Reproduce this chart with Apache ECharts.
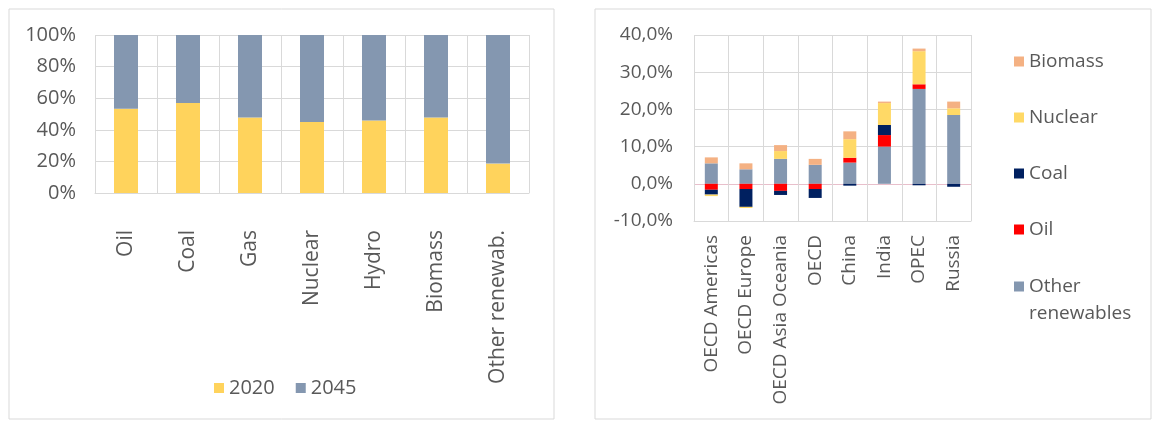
<!DOCTYPE html>
<html>
<head>
<meta charset="utf-8">
<script src="https://cdn.jsdelivr.net/npm/echarts@6/dist/echarts.min.js"></script>
<style>
  html, body { margin: 0; background: #fff; }
  #chart { width: 1156px; height: 423px; }
</style>
</head>
<body>
<div id="chart"></div>
<script>
// left chart: share of 2020 vs 2045 per fuel (100% stacked)
const fuels = ['Oil', 'Coal', 'Gas', 'Nuclear', 'Hydro', 'Biomass', 'Other renewab.'];
const share2020 = [53.3, 56.9, 47.8, 45.0, 45.9, 47.8, 18.6];
const share2045 = [46.7, 43.1, 52.2, 55.0, 54.1, 52.2, 81.4];

// right chart: change per region, by fuel (in %)
const regions = ['OECD Americas', 'OECD Europe', 'OECD Asia Oceania', 'OECD', 'China', 'India', 'OPEC', 'Russia'];
const otherRenewables = [5.5, 3.9, 6.7, 5.1, 5.7, 10.0, 25.5, 18.5];
const oil = [-1.6, -1.4, -1.9, -1.4, 1.3, 3.1, 1.25, 0];
const coal = [-1.3, -4.8, -1.1, -2.4, -0.5, 2.7, -0.4, -0.8];
const nuclear = [-0.4, -0.3, 2.1, 0, 5.0, 5.9, 8.9, 1.8];
const biomass = [1.6, 1.6, 1.6, 1.6, 2.1, 0.4, 0.7, 1.8];

const font = 'Open Sans';
const textGrey = '#595959';
const gridGrey = '#D9D9D9';

const chart = echarts.init(document.getElementById('chart'));

const pctComma = (v) => v.toFixed(1).replace('.', ',') + '%';

const rightSeries = [
  { name: 'Other renewables', data: otherRenewables, color: '#8497B0' },
  { name: 'Oil', data: oil, color: '#FF0000' },
  { name: 'Coal', data: coal, color: '#002060' },
  { name: 'Nuclear', data: nuclear, color: '#FFD966' },
  { name: 'Biomass', data: biomass, color: '#F4B183' },
].map((s) => ({
  name: s.name,
  type: 'bar',
  stack: 'regions',
  xAxisIndex: 1,
  yAxisIndex: 1,
  barWidth: 13,
  itemStyle: { color: s.color },
  data: s.data,
}));

const option = {
  backgroundColor: '#fff',
  animation: false,
  textStyle: { fontFamily: font },
  graphic: [
    { type: 'rect', shape: { x: 9, y: 9, width: 545, height: 410 }, style: { fill: 'none', stroke: gridGrey, lineWidth: 1 } },
    { type: 'rect', shape: { x: 595, y: 9, width: 556, height: 410 }, style: { fill: 'none', stroke: gridGrey, lineWidth: 1 } },
  ],
  grid: [
    { left: 95, top: 35, width: 434, height: 158 },
    { left: 694, top: 35, width: 277, height: 186 },
  ],
  legend: [
    {
      data: ['2020', '2045'],
      orient: 'horizontal',
      left: 214,
      top: 378,
      padding: 0,
      itemGap: 21,
      itemWidth: 10,
      itemHeight: 10,
      icon: 'rect',
      textStyle: { fontFamily: font, fontSize: 20, color: textGrey },
    },
    {
      data: ['Biomass', 'Nuclear', 'Coal', 'Oil'],
      orient: 'vertical',
      left: 1014,
      top: 48,
      padding: 0,
      itemGap: 29,
      itemWidth: 10,
      itemHeight: 10,
      icon: 'rect',
      textStyle: { fontFamily: font, fontSize: 19, lineHeight: 27, color: textGrey },
    },
    {
      // leading blank line keeps "Other" level with the icon
      data: ['Other renewables'],
      orient: 'vertical',
      left: 1014,
      top: 246,
      padding: 0,
      itemWidth: 10,
      itemHeight: 10,
      icon: 'rect',
      formatter: () => '\nOther\nrenewables',
      textStyle: { fontFamily: font, fontSize: 19, lineHeight: 27, color: textGrey },
    },
  ],
  xAxis: [
    {
      type: 'category',
      gridIndex: 0,
      data: fuels,
      axisTick: { show: false },
      axisLine: { lineStyle: { color: gridGrey } },
      splitLine: { show: true, interval: 0, lineStyle: { color: gridGrey } },
      axisLabel: { rotate: 90, interval: 0, margin: 37, fontSize: 21, color: textGrey, fontFamily: font },
    },
    {
      type: 'category',
      gridIndex: 1,
      data: regions,
      axisTick: { show: false },
      axisLine: { onZero: false, lineStyle: { color: gridGrey } },
      splitLine: { show: true, interval: 0, lineStyle: { color: gridGrey } },
      axisLabel: { rotate: 90, interval: 0, margin: 14, fontSize: 19, color: textGrey, fontFamily: font },
    },
  ],
  yAxis: [
    {
      type: 'value',
      gridIndex: 0,
      min: 0,
      max: 100,
      interval: 20,
      axisLine: { show: false },
      axisTick: { show: false },
      splitLine: { lineStyle: { color: gridGrey } },
      axisLabel: { formatter: '{value}%', margin: 19, fontSize: 20, color: textGrey, fontFamily: font },
    },
    {
      type: 'value',
      gridIndex: 1,
      min: -10,
      max: 40,
      interval: 10,
      axisLine: { show: false },
      axisTick: { show: false },
      splitLine: {
        lineStyle: {
          color: [gridGrey, '#E8BFCB', gridGrey, gridGrey, gridGrey, gridGrey],
        },
      },
      axisLabel: { formatter: pctComma, margin: 21, fontSize: 19, color: textGrey, fontFamily: font },
    },
  ],
  series: [
    {
      name: '2020',
      type: 'bar',
      stack: 'share',
      xAxisIndex: 0,
      yAxisIndex: 0,
      barWidth: 24,
      itemStyle: { color: '#FFD35C' },
      data: share2020,
    },
    {
      name: '2045',
      type: 'bar',
      stack: 'share',
      xAxisIndex: 0,
      yAxisIndex: 0,
      barWidth: 24,
      itemStyle: { color: '#8497B0' },
      data: share2045,
    },
    ...rightSeries,
  ],
};

chart.setOption(option);
</script>
</body>
</html>
